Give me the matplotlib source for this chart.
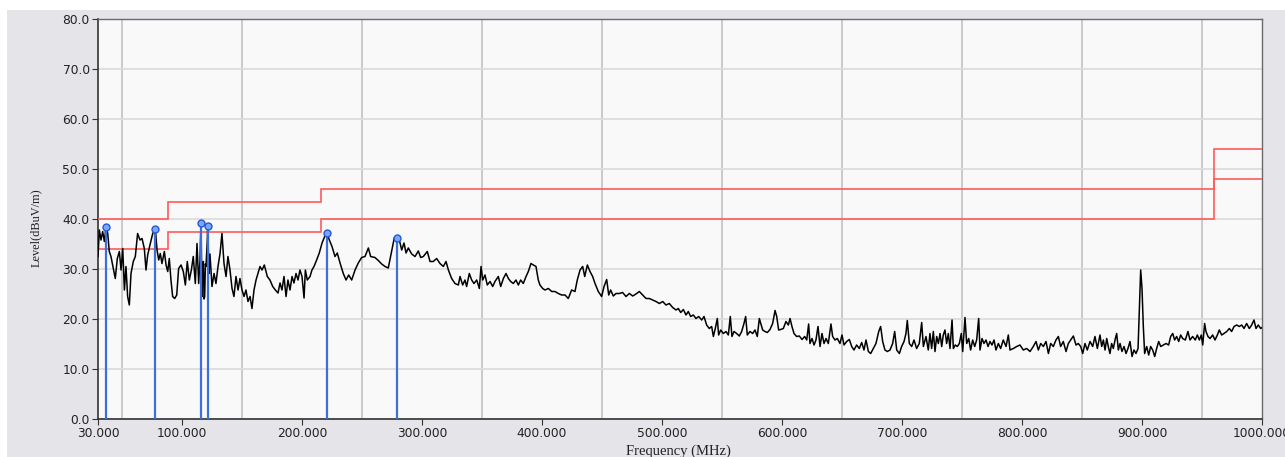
import numpy as np
import matplotlib.pyplot as plt
from matplotlib.patches import Rectangle
from matplotlib.ticker import FixedLocator, MultipleLocator

f_a = [30.0, 31.1, 32.5, 33.9, 35.3, 36.7, 38.1, 39.4, 40.8, 42.8, 44.4, 46.1,
       47.8, 49.2, 50.6, 52.0, 53.3, 54.7, 56.1, 57.5, 59.4, 61.1, 63.0, 65.0,
       66.7, 68.6, 70.0, 71.4, 73.3, 75.6, 77.8, 79.2, 80.6, 81.9, 83.3, 85.3,
       86.7, 88.1, 89.4, 90.8, 92.2, 93.9, 95.6, 97.2, 99.2]
lv_a = [32.5, 37.8, 35.8, 37.5, 35.5, 38.5, 37.1, 33.5, 32.5, 30.1, 28.1, 32.1,
        33.5, 29.8, 34.1, 25.8, 30.5, 24.5, 22.8, 29.1, 31.5, 32.5, 37.1, 35.8,
        36.1, 34.1, 29.8, 32.8, 34.8, 37.1, 38.0, 33.8, 31.8, 33.1, 31.1, 33.5,
        30.8, 29.5, 32.1, 27.8, 24.5, 24.1, 24.8, 30.1, 30.8]

f_b = [101.1, 102.8, 104.4, 106.1, 107.8, 109.4, 111.1, 112.5, 113.9, 115.0,
       115.8, 116.7, 117.2, 117.8, 118.4, 118.9, 119.5, 120.0, 121.1, 121.4,
       122.5, 123.3, 125.0, 126.7, 128.3, 130.0, 131.7, 133.3, 135.0, 136.7,
       138.3, 140.0, 141.7, 143.3, 145.0, 146.7, 148.3, 150.0, 151.7, 153.3,
       155.0, 156.7, 158.3, 160.0, 161.7, 163.3, 165.0, 166.7, 168.6]
lv_b = [29.5, 26.8, 31.5, 27.8, 29.8, 32.5, 27.1, 35.1, 27.1, 31.8,
        39.3, 24.5, 31.0, 31.5, 24.0, 24.5, 31.0, 30.5, 35.8, 38.7,
        29.1, 33.0, 26.5, 29.1, 27.1, 30.5, 33.1, 37.1, 31.1, 28.5,
        32.5, 29.8, 26.1, 24.5, 28.5, 25.8, 28.1, 25.8, 24.5, 25.8,
        23.5, 24.5, 22.1, 25.8, 27.8, 29.1, 30.5, 29.8, 30.8]

f_c = [171.1, 173.3, 175.6, 177.8, 180.0, 181.7, 183.3, 185.0, 186.7, 188.3,
       190.0, 191.7, 193.3, 195.0, 196.7, 198.3, 200.0, 201.7, 202.8, 204.4,
       206.7, 208.3, 210.0, 212.2, 214.4, 216.7, 218.9, 220.6, 222.8, 225.0,
       227.5, 229.4, 231.7, 234.4, 236.7, 238.9, 241.4, 244.2, 246.9, 249.7,
       252.5, 255.3, 257.2, 260.8, 263.6, 266.4, 269.2, 271.9, 274.7, 276.9,
       278.9, 281.1, 283.1, 285.0, 286.7, 288.6, 291.4, 294.2, 296.9, 298.9]
lv_c = [28.5, 27.8, 26.5, 25.8, 25.2, 27.2, 25.8, 28.5, 24.5, 27.8,
        25.8, 28.5, 27.2, 29.1, 27.8, 29.8, 28.5, 24.2, 29.8, 27.8,
        28.5, 29.8, 30.5, 31.8, 33.2, 35.2, 36.5, 37.3, 35.8, 34.5,
        32.5, 33.2, 31.2, 29.1, 27.8, 28.8, 27.8, 29.8, 31.2, 32.3,
        32.5, 34.2, 32.5, 32.3, 31.7, 31.0, 30.5, 30.2, 33.6, 36.2,
        36.3, 35.8, 33.8, 35.2, 33.2, 34.2, 33.0, 32.5, 33.6, 32.3]

f_d = [301.1, 304.4, 306.7, 309.4, 312.2, 315.0, 317.8, 320.0, 322.0, 324.7,
       327.5, 330.3, 331.7, 333.9, 335.8, 337.2, 339.4, 341.4, 343.3, 345.6,
       347.8, 349.2, 350.6, 352.5, 354.4, 356.7, 358.9, 360.8, 363.6, 365.6,
       367.8, 370.0, 372.0, 373.9, 376.1, 378.3, 380.3, 382.2, 384.4, 386.7,
       388.6, 390.8, 392.8, 395.0, 396.9, 398.3, 400.6, 402.5, 405.3, 408.1,
       410.8, 413.6, 416.4, 419.2, 421.9, 424.7, 427.5, 429.4, 431.7, 433.9,
       435.6, 437.8, 440.0, 442.2]
lv_d = [32.5, 33.5, 31.5, 31.5, 32.1, 31.1, 30.5, 31.5, 29.8, 28.1,
        27.1, 26.8, 28.5, 26.8, 27.8, 26.5, 29.1, 27.8, 27.1, 27.8,
        26.1, 30.5, 27.8, 28.8, 26.8, 27.5, 26.5, 27.5, 28.5, 26.5,
        28.1, 29.1, 28.1, 27.5, 27.1, 27.8, 26.8, 27.8, 27.1, 28.5,
        29.5, 31.1, 30.8, 30.5, 27.8, 26.8, 26.1, 25.8, 26.1, 25.5,
        25.5, 25.1, 24.8, 24.8, 24.1, 25.8, 25.5, 27.8, 29.8, 30.5,
        28.5, 30.8, 29.5, 28.5]

f_e = [444.2, 446.9, 449.7, 451.7, 453.9, 455.6, 457.2, 459.4, 461.7, 464.4,
       467.2, 470.0, 472.8, 475.6, 478.3, 481.1, 483.9, 486.7, 489.4, 492.2,
       495.0, 497.8, 500.6, 503.3, 506.1, 508.9, 511.7, 513.6, 515.6, 517.8,
       520.0, 521.9, 523.9, 526.1, 528.3, 530.6, 533.1, 535.0, 537.2, 539.4,
       541.4, 542.8, 544.4, 546.1, 547.2, 548.9, 551.1, 553.3, 555.3, 556.9,
       558.3, 560.0, 562.2, 564.4, 566.4, 568.3, 569.7, 571.1, 573.3, 575.6,
       577.5, 579.4]
lv_e = [27.1, 25.5, 24.5, 26.5, 27.9, 24.8, 25.8, 24.6, 25.1, 25.1,
        25.3, 24.5, 25.1, 24.6, 25.0, 25.5, 24.8, 24.1, 24.1, 23.8,
        23.5, 23.1, 23.5, 22.8, 23.1, 22.3, 21.8, 22.1, 21.3, 21.9,
        20.8, 21.5, 20.5, 20.8, 20.1, 20.5, 19.8, 20.5, 18.8, 18.1,
        18.5, 16.5, 18.1, 20.1, 16.8, 17.8, 17.1, 17.5, 16.8, 20.5,
        16.5, 17.5, 17.1, 16.6, 17.5, 19.1, 20.5, 16.8, 17.5, 17.1,
        17.8, 16.5]

f_f = [581.1, 583.9, 585.8, 587.8, 590.0, 592.2, 594.2, 595.6, 597.2, 598.9,
       601.1, 603.3, 605.3, 606.7, 608.3, 610.0, 612.2, 614.4, 616.7, 618.9,
       620.6, 622.2, 623.3, 625.0, 626.7, 628.3, 630.0, 631.7, 633.3, 635.0,
       636.7, 638.6, 640.8, 642.2, 644.2, 646.1, 648.3, 650.0, 651.7, 653.9,
       656.1, 658.1, 660.0, 662.2, 664.4, 666.4, 668.3, 670.0, 672.0, 673.9,
       676.1, 678.3, 680.6, 682.2, 683.9, 685.8, 687.8, 690.0, 692.2, 693.9,
       695.6, 697.8, 699.7, 701.7, 703.3, 704.4, 706.1, 708.1, 710.0, 712.2,
       714.4, 716.4, 717.8, 720.0, 721.9]
lv_f = [20.1, 17.8, 17.5, 17.3, 17.9, 19.1, 21.7, 20.5, 17.8, 17.9,
        18.1, 19.5, 18.8, 20.1, 18.5, 17.1, 16.5, 16.6, 15.9, 16.5,
        15.8, 19.0, 15.1, 16.1, 14.8, 15.8, 18.5, 14.5, 17.1, 15.1,
        16.1, 15.1, 19.0, 16.5, 15.8, 16.1, 15.1, 16.8, 14.8, 15.5,
        15.9, 14.5, 13.8, 14.8, 14.1, 15.3, 13.8, 15.8, 13.5, 13.1,
        14.1, 15.1, 17.5, 18.5, 15.5, 13.8, 13.5, 13.8, 15.1, 17.5,
        13.8, 13.1, 14.5, 15.5, 17.1, 19.7, 15.1, 14.5, 15.8, 14.1,
        15.1, 19.3, 14.5, 16.5, 13.8]

f_g = [723.3, 724.7, 726.1, 727.5, 728.9, 730.3, 731.7, 733.1, 734.4, 735.8,
       737.2, 738.6, 740.0, 741.7, 742.8, 744.4, 746.1, 747.8, 749.4, 750.6,
       752.5, 753.9, 755.6, 757.2, 758.9, 760.6, 762.2, 763.9, 765.0, 766.7,
       768.3, 770.0, 771.7, 773.3, 775.0, 776.7, 778.3, 780.3, 782.2, 784.4,
       786.7, 788.6, 790.0, 792.8, 795.6, 798.3, 801.1, 803.9, 806.7, 809.4,
       811.7, 813.6, 815.6, 817.8, 820.0, 822.0, 823.9, 826.1, 828.3, 830.3,
       832.2, 834.4, 836.7, 838.6, 840.6, 842.8, 845.0, 846.9, 848.9, 850.6,
       852.5, 854.4, 856.7, 858.9, 860.8, 862.8]
lv_g = [17.1, 14.1, 17.5, 13.5, 16.5, 15.1, 17.1, 14.5, 16.8, 17.8,
        15.1, 17.1, 14.1, 19.8, 14.1, 14.8, 14.5, 15.1, 17.1, 13.5,
        20.3, 15.1, 16.1, 13.8, 15.8, 14.5, 15.8, 20.1, 13.8, 16.1,
        15.1, 15.8, 14.5, 15.5, 14.8, 15.8, 13.8, 15.1, 14.1, 15.8,
        14.5, 16.8, 13.8, 14.1, 14.5, 14.8, 13.8, 14.1, 13.5, 14.5,
        15.5, 13.8, 15.1, 14.5, 15.5, 13.1, 15.1, 14.5, 15.8, 16.5,
        14.5, 15.5, 13.5, 15.1, 15.8, 16.6, 14.8, 15.1, 14.5, 13.1,
        15.1, 13.8, 15.5, 14.5, 16.5, 14.1]

f_h = [865.0, 866.4, 867.8, 869.2, 870.6, 871.9, 873.3, 874.7, 876.1, 877.8,
       878.9, 880.3, 881.7, 883.3, 885.0, 886.7, 888.3, 890.0, 891.7, 893.3,
       895.0, 896.7, 897.8, 898.9, 900.0, 901.1, 902.2, 903.9, 905.6, 907.2,
       908.9, 910.6, 912.2, 913.9, 915.6, 917.8, 920.0, 922.2, 923.9, 925.6,
       927.2, 928.9, 930.6, 932.2, 933.9, 936.1, 938.3, 940.0, 942.2, 944.4,
       946.1, 947.8, 949.4, 950.6, 952.2, 953.3, 955.0, 956.7, 958.9, 960.8,
       962.8, 964.4, 966.4, 968.3, 970.6, 972.8, 974.7, 976.7, 978.9, 981.1,
       983.1, 985.0, 987.2, 989.4, 991.4, 993.3, 995.0, 996.9, 998.9, 1000.0]
lv_h = [16.8, 14.5, 15.8, 13.8, 16.1, 14.5, 13.1, 15.1, 14.1, 16.1,
        17.1, 13.8, 15.1, 13.5, 14.5, 13.1, 14.1, 15.5, 12.5, 13.8,
        13.1, 14.1, 21.8, 29.8, 26.1, 18.5, 13.1, 14.5, 12.8, 14.5,
        13.8, 12.5, 14.1, 15.5, 14.5, 14.8, 15.1, 14.8, 16.5, 17.1,
        15.8, 16.5, 15.5, 16.8, 16.1, 15.8, 17.5, 15.8, 16.5, 15.8,
        16.8, 15.8, 16.8, 14.8, 19.1, 17.5, 16.5, 16.1, 16.8, 15.8,
        16.8, 17.8, 16.8, 17.1, 17.5, 18.1, 17.5, 18.5, 18.8, 18.5,
        18.8, 18.1, 19.1, 18.1, 18.8, 19.8, 18.1, 18.8, 18.1, 18.3]

# limit lines
limit_edges = [30, 88, 216, 960, 1000]
limit_qp = [40, 43.5, 46, 54]
limit_margin = [34, 37.5, 40, 48]

# final peak readings
peak_f = [36.7, 77.8, 115.8, 121.4, 220.6, 278.9]
peak_lv = [38.5, 38.0, 39.3, 38.7, 37.3, 36.3]

xtick_vals = [30, 100, 200, 300, 400, 500, 600, 700, 800, 900, 1000]

freq = np.concatenate([f_a, f_b, f_c, f_d, f_e, f_f, f_g, f_h])
level = np.concatenate([lv_a, lv_b, lv_c, lv_d, lv_e, lv_f, lv_g, lv_h])

fig = plt.figure(figsize=(12.85, 4.57), dpi=100, facecolor='white')
fig.add_artist(Rectangle((7 / 1285, 0), 1278 / 1285, 447 / 457,
                         transform=fig.transFigure, facecolor='#e4e4e9',
                         edgecolor='none', zorder=-5))
ax = fig.add_axes([98 / 1285, 38 / 457, 1164 / 1285, 400 / 457])
ax.set_facecolor('#f9f9f9')

ax.stairs(limit_qp, limit_edges, color='#ff5a5a', lw=1.2, baseline=None, zorder=3)
ax.stairs(limit_margin, limit_edges, color='#ff5a5a', lw=1.2, baseline=None, zorder=3)
ax.plot(freq, level, color='black', lw=1.1, zorder=4)
ax.vlines(peak_f, 0, peak_lv, color='#3b6fdc', lw=1.6, zorder=5)
ax.plot(peak_f, peak_lv, 'o', ms=5, mfc='#7aa6ff', mec='#2458d6', mew=1.0, zorder=6)

ax.set_xlim(30, 1000)
ax.set_ylim(0, 80)
ax.xaxis.set_major_locator(FixedLocator(xtick_vals))
ax.set_xticklabels([f'{v:.3f}' for v in xtick_vals])
ax.xaxis.set_minor_locator(FixedLocator(np.arange(50, 1000, 50)))
ax.yaxis.set_major_locator(MultipleLocator(10))
ax.set_yticklabels([f'{v:.1f}' for v in ax.get_yticks()])

ax.grid(which='minor', axis='x', color='#c6c6c6', lw=1.3)
ax.grid(which='major', axis='y', color='#dadada', lw=1.2)
ax.tick_params(which='minor', length=0)
ax.tick_params(which='major', direction='out', length=4, width=0.8,
               color='#333333', labelsize=8.8, labelcolor='#222222', pad=2)
ax.set_axisbelow(True)

for side in ['left', 'bottom']:
    ax.spines[side].set_color('#333333')
    ax.spines[side].set_linewidth(1.2)
for side in ['top', 'right']:
    ax.spines[side].set_color('#6a6a6a')
    ax.spines[side].set_linewidth(1.0)

fig.text(36 / 1285, 1 - 228 / 457, 'Level(dBuV/m)', rotation=90, ha='center',
         va='center', family='Liberation Serif', fontsize=8.8, color='#222222')
fig.text(678 / 1285, 1 - 451 / 457, 'Frequency (MHz)', ha='center', va='center',
         family='Liberation Serif', fontsize=10.5, color='#222222')

fig.savefig('out.png', dpi=100, facecolor=fig.get_facecolor())
